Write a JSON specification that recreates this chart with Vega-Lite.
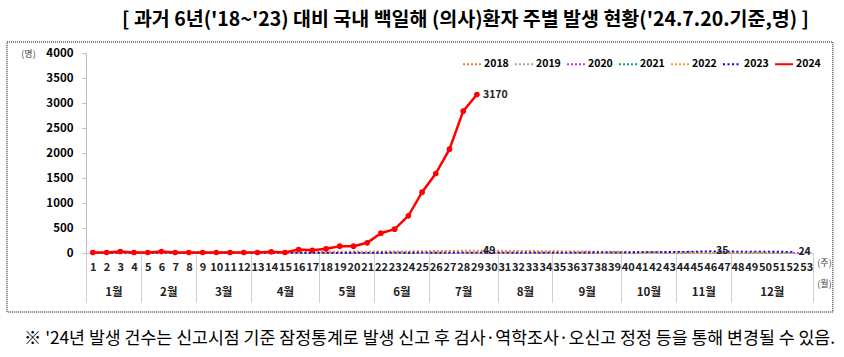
{
 "$schema": "https://vega.github.io/schema/vega-lite/v6.json",
 "autosize": {"type": "none"},
 "width": 727,
 "height": 200,
 "padding": {"left": 86, "top": 53, "right": 31, "bottom": 104},
 "background": "white",
 "config": {"view": {"stroke": null}, "font": "Noto Sans CJK KR"},
 "title": {"text": "[ 과거 6년('18~'23) 대비 국내 백일해 (의사)환자 주별 발생 현황('24.7.20.기준,명) ]", "anchor": "middle", "frame": "group", "fontSize": 19.5, "fontWeight": "bold", "font": "Noto Sans CJK KR", "color": "black", "offset": 11, "dx": 16},
 "data": {"values": [
{"year":"2018","week":1,"cases":10},{"year":"2018","week":2,"cases":12},{"year":"2018","week":3,"cases":11},{"year":"2018","week":4,"cases":14},{"year":"2018","week":5,"cases":13},{"year":"2018","week":6,"cases":15},{"year":"2018","week":7,"cases":12},{"year":"2018","week":8,"cases":16},{"year":"2018","week":9,"cases":18},{"year":"2018","week":10,"cases":17},
{"year":"2018","week":11,"cases":20},{"year":"2018","week":12,"cases":19},{"year":"2018","week":13,"cases":22},{"year":"2018","week":14,"cases":21},{"year":"2018","week":15,"cases":24},{"year":"2018","week":16,"cases":23},{"year":"2018","week":17,"cases":25},{"year":"2018","week":18,"cases":27},{"year":"2018","week":19,"cases":26},{"year":"2018","week":20,"cases":30},
{"year":"2018","week":21,"cases":28},{"year":"2018","week":22,"cases":32},{"year":"2018","week":23,"cases":34},{"year":"2018","week":24,"cases":33},{"year":"2018","week":25,"cases":38},{"year":"2018","week":26,"cases":40},{"year":"2018","week":27,"cases":42},{"year":"2018","week":28,"cases":45},{"year":"2018","week":29,"cases":49},{"year":"2018","week":30,"cases":46},
{"year":"2018","week":31,"cases":44},{"year":"2018","week":32,"cases":42},{"year":"2018","week":33,"cases":40},{"year":"2018","week":34,"cases":38},{"year":"2018","week":35,"cases":35},{"year":"2018","week":36,"cases":33},{"year":"2018","week":37,"cases":30},{"year":"2018","week":38,"cases":28},{"year":"2018","week":39,"cases":27},{"year":"2018","week":40,"cases":25},
{"year":"2018","week":41,"cases":22},{"year":"2018","week":42,"cases":20},{"year":"2018","week":43,"cases":18},{"year":"2018","week":44,"cases":16},{"year":"2018","week":45,"cases":15},{"year":"2018","week":46,"cases":14},{"year":"2018","week":47,"cases":12},{"year":"2018","week":48,"cases":11},{"year":"2018","week":49,"cases":10},{"year":"2018","week":50,"cases":9},
{"year":"2018","week":51,"cases":8},{"year":"2018","week":52,"cases":7},
{"year":"2019","week":1,"cases":8},{"year":"2019","week":2,"cases":9},{"year":"2019","week":3,"cases":10},{"year":"2019","week":4,"cases":8},{"year":"2019","week":5,"cases":9},{"year":"2019","week":6,"cases":11},{"year":"2019","week":7,"cases":10},{"year":"2019","week":8,"cases":12},{"year":"2019","week":9,"cases":11},{"year":"2019","week":10,"cases":10},
{"year":"2019","week":11,"cases":12},{"year":"2019","week":12,"cases":13},{"year":"2019","week":13,"cases":12},{"year":"2019","week":14,"cases":11},{"year":"2019","week":15,"cases":13},{"year":"2019","week":16,"cases":12},{"year":"2019","week":17,"cases":14},{"year":"2019","week":18,"cases":13},{"year":"2019","week":19,"cases":12},{"year":"2019","week":20,"cases":11},
{"year":"2019","week":21,"cases":12},{"year":"2019","week":22,"cases":10},{"year":"2019","week":23,"cases":11},{"year":"2019","week":24,"cases":10},{"year":"2019","week":25,"cases":9},{"year":"2019","week":26,"cases":10},{"year":"2019","week":27,"cases":9},{"year":"2019","week":28,"cases":8},{"year":"2019","week":29,"cases":9},{"year":"2019","week":30,"cases":10},
{"year":"2019","week":31,"cases":8},{"year":"2019","week":32,"cases":9},{"year":"2019","week":33,"cases":8},{"year":"2019","week":34,"cases":7},{"year":"2019","week":35,"cases":8},{"year":"2019","week":36,"cases":9},{"year":"2019","week":37,"cases":7},{"year":"2019","week":38,"cases":8},{"year":"2019","week":39,"cases":6},{"year":"2019","week":40,"cases":7},
{"year":"2019","week":41,"cases":6},{"year":"2019","week":42,"cases":5},{"year":"2019","week":43,"cases":6},{"year":"2019","week":44,"cases":5},{"year":"2019","week":45,"cases":4},{"year":"2019","week":46,"cases":5},{"year":"2019","week":47,"cases":4},{"year":"2019","week":48,"cases":3},{"year":"2019","week":49,"cases":4},{"year":"2019","week":50,"cases":3},
{"year":"2019","week":51,"cases":3},{"year":"2019","week":52,"cases":2},
{"year":"2020","week":1,"cases":3},{"year":"2020","week":2,"cases":2},{"year":"2020","week":3,"cases":3},{"year":"2020","week":4,"cases":2},{"year":"2020","week":5,"cases":3},{"year":"2020","week":6,"cases":2},{"year":"2020","week":7,"cases":2},{"year":"2020","week":8,"cases":1},{"year":"2020","week":9,"cases":2},{"year":"2020","week":10,"cases":1},
{"year":"2020","week":11,"cases":1},{"year":"2020","week":12,"cases":2},{"year":"2020","week":13,"cases":1},{"year":"2020","week":14,"cases":1},{"year":"2020","week":15,"cases":2},{"year":"2020","week":16,"cases":1},{"year":"2020","week":17,"cases":1},{"year":"2020","week":18,"cases":1},{"year":"2020","week":19,"cases":2},{"year":"2020","week":20,"cases":1},
{"year":"2020","week":21,"cases":1},{"year":"2020","week":22,"cases":1},{"year":"2020","week":23,"cases":2},{"year":"2020","week":24,"cases":1},{"year":"2020","week":25,"cases":1},{"year":"2020","week":26,"cases":1},{"year":"2020","week":27,"cases":1},{"year":"2020","week":28,"cases":2},{"year":"2020","week":29,"cases":1},{"year":"2020","week":30,"cases":1},
{"year":"2020","week":31,"cases":1},{"year":"2020","week":32,"cases":1},{"year":"2020","week":33,"cases":2},{"year":"2020","week":34,"cases":1},{"year":"2020","week":35,"cases":1},{"year":"2020","week":36,"cases":1},{"year":"2020","week":37,"cases":1},{"year":"2020","week":38,"cases":1},{"year":"2020","week":39,"cases":2},{"year":"2020","week":40,"cases":1},
{"year":"2020","week":41,"cases":1},{"year":"2020","week":42,"cases":1},{"year":"2020","week":43,"cases":1},{"year":"2020","week":44,"cases":1},{"year":"2020","week":45,"cases":2},{"year":"2020","week":46,"cases":1},{"year":"2020","week":47,"cases":1},{"year":"2020","week":48,"cases":1},{"year":"2020","week":49,"cases":1},{"year":"2020","week":50,"cases":1},
{"year":"2020","week":51,"cases":0},{"year":"2020","week":52,"cases":1},{"year":"2020","week":53,"cases":1},
{"year":"2021","week":1,"cases":1},{"year":"2021","week":2,"cases":0},{"year":"2021","week":3,"cases":1},{"year":"2021","week":4,"cases":0},{"year":"2021","week":5,"cases":0},{"year":"2021","week":6,"cases":1},{"year":"2021","week":7,"cases":0},{"year":"2021","week":8,"cases":0},{"year":"2021","week":9,"cases":1},{"year":"2021","week":10,"cases":0},
{"year":"2021","week":11,"cases":0},{"year":"2021","week":12,"cases":1},{"year":"2021","week":13,"cases":0},{"year":"2021","week":14,"cases":0},{"year":"2021","week":15,"cases":0},{"year":"2021","week":16,"cases":1},{"year":"2021","week":17,"cases":0},{"year":"2021","week":18,"cases":0},{"year":"2021","week":19,"cases":1},{"year":"2021","week":20,"cases":0},
{"year":"2021","week":21,"cases":0},{"year":"2021","week":22,"cases":0},{"year":"2021","week":23,"cases":1},{"year":"2021","week":24,"cases":0},{"year":"2021","week":25,"cases":0},{"year":"2021","week":26,"cases":1},{"year":"2021","week":27,"cases":0},{"year":"2021","week":28,"cases":0},{"year":"2021","week":29,"cases":0},{"year":"2021","week":30,"cases":1},
{"year":"2021","week":31,"cases":0},{"year":"2021","week":32,"cases":0},{"year":"2021","week":33,"cases":1},{"year":"2021","week":34,"cases":0},{"year":"2021","week":35,"cases":0},{"year":"2021","week":36,"cases":0},{"year":"2021","week":37,"cases":1},{"year":"2021","week":38,"cases":0},{"year":"2021","week":39,"cases":0},{"year":"2021","week":40,"cases":1},
{"year":"2021","week":41,"cases":0},{"year":"2021","week":42,"cases":0},{"year":"2021","week":43,"cases":1},{"year":"2021","week":44,"cases":0},{"year":"2021","week":45,"cases":1},{"year":"2021","week":46,"cases":0},{"year":"2021","week":47,"cases":0},{"year":"2021","week":48,"cases":1},{"year":"2021","week":49,"cases":0},{"year":"2021","week":50,"cases":0},
{"year":"2021","week":51,"cases":1},{"year":"2021","week":52,"cases":0},
{"year":"2022","week":1,"cases":0},{"year":"2022","week":2,"cases":1},{"year":"2022","week":3,"cases":0},{"year":"2022","week":4,"cases":0},{"year":"2022","week":5,"cases":1},{"year":"2022","week":6,"cases":0},{"year":"2022","week":7,"cases":0},{"year":"2022","week":8,"cases":0},{"year":"2022","week":9,"cases":1},{"year":"2022","week":10,"cases":0},
{"year":"2022","week":11,"cases":1},{"year":"2022","week":12,"cases":0},{"year":"2022","week":13,"cases":0},{"year":"2022","week":14,"cases":1},{"year":"2022","week":15,"cases":0},{"year":"2022","week":16,"cases":0},{"year":"2022","week":17,"cases":1},{"year":"2022","week":18,"cases":0},{"year":"2022","week":19,"cases":0},{"year":"2022","week":20,"cases":0},
{"year":"2022","week":21,"cases":1},{"year":"2022","week":22,"cases":0},{"year":"2022","week":23,"cases":0},{"year":"2022","week":24,"cases":1},{"year":"2022","week":25,"cases":0},{"year":"2022","week":26,"cases":1},{"year":"2022","week":27,"cases":0},{"year":"2022","week":28,"cases":0},{"year":"2022","week":29,"cases":1},{"year":"2022","week":30,"cases":0},
{"year":"2022","week":31,"cases":0},{"year":"2022","week":32,"cases":1},{"year":"2022","week":33,"cases":0},{"year":"2022","week":34,"cases":1},{"year":"2022","week":35,"cases":0},{"year":"2022","week":36,"cases":0},{"year":"2022","week":37,"cases":1},{"year":"2022","week":38,"cases":0},{"year":"2022","week":39,"cases":1},{"year":"2022","week":40,"cases":0},
{"year":"2022","week":41,"cases":1},{"year":"2022","week":42,"cases":0},{"year":"2022","week":43,"cases":1},{"year":"2022","week":44,"cases":1},{"year":"2022","week":45,"cases":0},{"year":"2022","week":46,"cases":1},{"year":"2022","week":47,"cases":1},{"year":"2022","week":48,"cases":0},{"year":"2022","week":49,"cases":1},{"year":"2022","week":50,"cases":2},
{"year":"2022","week":51,"cases":1},{"year":"2022","week":52,"cases":2},
{"year":"2023","week":1,"cases":2},{"year":"2023","week":2,"cases":3},{"year":"2023","week":3,"cases":2},{"year":"2023","week":4,"cases":3},{"year":"2023","week":5,"cases":2},{"year":"2023","week":6,"cases":4},{"year":"2023","week":7,"cases":3},{"year":"2023","week":8,"cases":3},{"year":"2023","week":9,"cases":2},{"year":"2023","week":10,"cases":4},
{"year":"2023","week":11,"cases":3},{"year":"2023","week":12,"cases":4},{"year":"2023","week":13,"cases":3},{"year":"2023","week":14,"cases":5},{"year":"2023","week":15,"cases":4},{"year":"2023","week":16,"cases":3},{"year":"2023","week":17,"cases":4},{"year":"2023","week":18,"cases":5},{"year":"2023","week":19,"cases":4},{"year":"2023","week":20,"cases":5},
{"year":"2023","week":21,"cases":4},{"year":"2023","week":22,"cases":5},{"year":"2023","week":23,"cases":6},{"year":"2023","week":24,"cases":5},{"year":"2023","week":25,"cases":6},{"year":"2023","week":26,"cases":5},{"year":"2023","week":27,"cases":6},{"year":"2023","week":28,"cases":7},{"year":"2023","week":29,"cases":6},{"year":"2023","week":30,"cases":6},
{"year":"2023","week":31,"cases":7},{"year":"2023","week":32,"cases":6},{"year":"2023","week":33,"cases":8},{"year":"2023","week":34,"cases":7},{"year":"2023","week":35,"cases":9},{"year":"2023","week":36,"cases":8},{"year":"2023","week":37,"cases":10},{"year":"2023","week":38,"cases":11},{"year":"2023","week":39,"cases":12},{"year":"2023","week":40,"cases":14},
{"year":"2023","week":41,"cases":16},{"year":"2023","week":42,"cases":18},{"year":"2023","week":43,"cases":20},{"year":"2023","week":44,"cases":22},{"year":"2023","week":45,"cases":28},{"year":"2023","week":46,"cases":35},{"year":"2023","week":47,"cases":31},{"year":"2023","week":48,"cases":29},{"year":"2023","week":49,"cases":27},{"year":"2023","week":50,"cases":26},
{"year":"2023","week":51,"cases":25},{"year":"2023","week":52,"cases":24},
{"year":"2024","week":1,"cases":10},{"year":"2024","week":2,"cases":10},{"year":"2024","week":3,"cases":30},{"year":"2024","week":4,"cases":10},{"year":"2024","week":5,"cases":10},{"year":"2024","week":6,"cases":30},{"year":"2024","week":7,"cases":10},{"year":"2024","week":8,"cases":10},{"year":"2024","week":9,"cases":10},{"year":"2024","week":10,"cases":10},
{"year":"2024","week":11,"cases":10},{"year":"2024","week":12,"cases":10},{"year":"2024","week":13,"cases":10},{"year":"2024","week":14,"cases":25},{"year":"2024","week":15,"cases":10},{"year":"2024","week":16,"cases":70},{"year":"2024","week":17,"cases":55},{"year":"2024","week":18,"cases":84},{"year":"2024","week":19,"cases":136},{"year":"2024","week":20,"cases":136},
{"year":"2024","week":21,"cases":204},{"year":"2024","week":22,"cases":396},{"year":"2024","week":23,"cases":476},{"year":"2024","week":24,"cases":744},{"year":"2024","week":25,"cases":1216},{"year":"2024","week":26,"cases":1590},{"year":"2024","week":27,"cases":2076},{"year":"2024","week":28,"cases":2836},{"year":"2024","week":29,"cases":3170}
 ]},
 "resolve": {"scale": {"x": "shared", "y": "shared"}, "axis": {"x": "independent", "y": "independent"}},
 "layer": [
  {
   "data": {"values": [{}]},
   "mark": {"type": "rect", "fillOpacity": 0, "stroke": "black", "strokeWidth": 1, "strokeDash": [1, 1], "clip": false},
   "encoding": {
    "x": {"datum": -5.26, "type": "quantitative", "scale": {"domain": [0.5, 53.5], "nice": false, "zero": false},
      "axis": {"orient": "bottom", "offset": 0, "values": [0.5, 4.5, 8.5, 12.5, 17.5, 21.5, 25.5, 30.5, 34.5, 39.5, 43.5, 47.5, 53.5], "labels": false, "domain": false, "grid": false, "ticks": true, "tickSize": 49, "tickColor": "#d0d0d0", "tickWidth": 1,
        "title": "※ '24년 발생 건수는 신고시점 기준 잠정통계로 발생 신고 후 검사·역학조사·오신고 정정 등을 통해 변경될 수 있음.", "titleX": 343, "titleY": 85, "titleAlign": "center", "titleBaseline": "middle", "titleAngle": 0, "titleFontSize": 17.3, "titleFontWeight": "normal", "titleColor": "black", "titleFont": "Noto Sans CJK KR"}},
    "x2": {"datum": 54.95},
    "y": {"datum": 4220, "type": "quantitative", "scale": {"domain": [0, 4000], "nice": false, "zero": false},
      "axis": {"orient": "left", "values": [0, 500, 1000, 1500, 2000, 2500, 3000, 3500, 4000], "format": "d", "labelOverlap": false, "grid": false, "labelFontSize": 11.5, "labelFontWeight": "bold", "labelColor": "black", "labelFont": "Noto Sans CJK KR", "labelPadding": 9, "tickSize": 4, "tickColor": "#bfbfbf", "domainColor": "#bfbfbf",
        "title": "(명)", "titleAngle": 0, "titleX": -58, "titleY": 0, "titleAlign": "center", "titleBaseline": "middle", "titleFontSize": 9, "titleFontWeight": "normal", "titleColor": "#444"}},
    "y2": {"datum": -1180}
   }
  },
  {
   "transform": [{"filter": "datum.year != '2024'"}],
   "mark": {"type": "line", "strokeWidth": 1.8, "clip": false},
   "encoding": {
    "x": {"field": "week", "type": "quantitative",
      "axis": {"orient": "bottom", "offset": 0, "values": [1,2,3,4,5,6,7,8,9,10,11,12,13,14,15,16,17,18,19,20,21,22,23,24,25,26,27,28,29,30,31,32,33,34,35,36,37,38,39,40,41,42,43,44,45,46,47,48,49,50,51,52,53], "format": "d", "labelOverlap": false, "labelFlush": false, "labelFontSize": 11, "labelFontWeight": "bold", "labelColor": "#222", "labelFont": "Noto Sans CJK KR", "labelPadding": 8, "ticks": false, "grid": false, "domain": true, "domainColor": "#bfbfbf",
        "title": "(주)", "titleX": 738, "titleY": 9, "titleAlign": "center", "titleBaseline": "middle", "titleAngle": 0, "titleFontSize": 9, "titleFontWeight": "normal", "titleColor": "#444"}},
    "y": {"field": "cases", "type": "quantitative", "axis": null},
    "color": {"field": "year", "type": "nominal",
      "scale": {"domain": ["2018", "2019", "2020", "2021", "2022", "2023", "2024"], "range": ["#ED7D31", "#A5A5A5", "#CC33FF", "#00B050", "#FF9933", "#0000FF", "#FF0000"]},
      "legend": {"orient": "none", "legendX": 376, "legendY": 1, "direction": "horizontal", "columns": 7, "title": null, "symbolType": "stroke", "symbolSize": 324, "symbolStrokeWidth": 2, "labelFont": "Noto Sans CJK KR", "labelFontSize": 10.5, "labelFontWeight": "bold", "labelColor": "black", "columnPadding": 2, "labelOffset": 2}},
    "strokeDash": {"field": "year", "type": "nominal",
      "scale": {"domain": ["2018", "2019", "2020", "2021", "2022", "2023", "2024"], "range": [[2, 2], [2, 2], [2, 2], [2, 2], [2, 2], [2, 2.5], [1, 0]]}}
   }
  },
  {
   "transform": [{"filter": "datum.year == '2024'"}],
   "mark": {"type": "line", "strokeWidth": 2.5, "color": "#FF0000"},
   "encoding": {
    "x": {"field": "week", "type": "quantitative", "axis": null},
    "y": {"field": "cases", "type": "quantitative", "axis": null}
   }
  },
  {
   "transform": [{"filter": "datum.year == '2024'"}],
   "mark": {"type": "point", "filled": true, "size": 32, "color": "#FF0000", "opacity": 1},
   "encoding": {
    "x": {"field": "week", "type": "quantitative", "axis": null},
    "y": {"field": "cases", "type": "quantitative", "axis": null}
   }
  },
  {
   "transform": [{"filter": "(datum.year == '2024' && datum.week == 29) || (datum.year == '2018' && datum.week == 29) || (datum.year == '2023' && (datum.week == 46 || datum.week == 52))"}],
   "mark": {"type": "text", "align": "left", "baseline": "middle", "dx": 6, "fontSize": 10.5, "fontWeight": "bold", "color": "#222", "font": "Noto Sans CJK KR"},
   "encoding": {
    "x": {"field": "week", "type": "quantitative",
      "axis": {"orient": "bottom", "offset": 0, "values": [2.5, 6.5, 10.5, 15, 19.5, 23.5, 28, 32.5, 37, 41.5, 45.5, 50.5],
        "labelExpr": "datum.value < 4 ? '1월' : datum.value < 8 ? '2월' : datum.value < 12 ? '3월' : datum.value < 17 ? '4월' : datum.value < 21 ? '5월' : datum.value < 25 ? '6월' : datum.value < 30 ? '7월' : datum.value < 34 ? '8월' : datum.value < 39 ? '9월' : datum.value < 43 ? '10월' : datum.value < 47 ? '11월' : '12월'",
        "labelOverlap": false, "labelFlush": false, "labelFontSize": 11.5, "labelFontWeight": "bold", "labelColor": "#222", "labelFont": "Noto Sans CJK KR", "labelPadding": 33, "ticks": false, "grid": false, "domain": false,
        "title": "(월)", "titleX": 738, "titleY": 30, "titleAlign": "center", "titleBaseline": "middle", "titleAngle": 0, "titleFontSize": 9, "titleFontWeight": "normal", "titleColor": "#444"}},
    "y": {"field": "cases", "type": "quantitative", "axis": null},
    "text": {"field": "cases", "type": "quantitative"}
   }
  }
 ]
}
